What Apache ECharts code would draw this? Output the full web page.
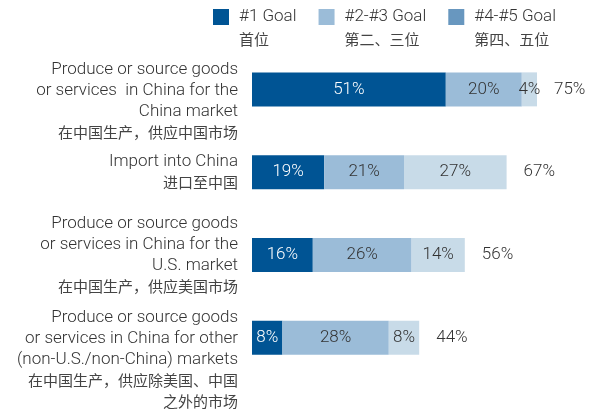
<!DOCTYPE html>
<html><head><meta charset="utf-8">
<script src="https://cdn.jsdelivr.net/npm/echarts@6/dist/echarts.min.js"></script>
<style>html,body{margin:0;padding:0;background:#fff}#c{width:589px;height:410px}</style>
</head><body><div id="c"></div>
<script>
const categoriesEn = [
  'Produce or source goods\nor services  in China for the\nChina market',
  'Import into China',
  'Produce or source goods\nor services in China for the\nU.S. market',
  'Produce or source goods\nor services in China for other\n(non-U.S./non-China) markets'
];
const categoriesZh = [
  '在中国生产，供应中国市场',
  '进口至中国',
  '在中国生产，供应美国市场',
  '在中国生产，供应除美国、中国\n之外的市场'
];
const seriesNames = ['#1 Goal', '#2-#3 Goal', '#4-#5 Goal'];
const seriesNamesZh = ['首位', '第二、三位', '第四、五位'];
const goal1 = [51, 19, 16, 8];
const goal23 = [20, 21, 26, 28];
const goal45 = [4, 27, 14, 8];
const totals = [75, 67, 56, 44];

const FONT_EN = 'Roboto, "Liberation Sans", sans-serif';
const FONT_ZH = '"Noto Sans CJK SC", sans-serif';
const colors = ['#005494', '#9bbcd8', '#c8dbe8'];
const legendSwatch = ['#005494', '#9bbcd8', '#6897bf'];
const spacerByIndex = ['sp1', null, null, 'sp4'];

function catLabel(i) {
  let parts = [];
  if (spacerByIndex[i]) parts.push('{' + spacerByIndex[i] + '| }');
  categoriesEn[i].split('\n').forEach(l => parts.push('{en|' + l + '}'));
  categoriesZh[i].split('\n').forEach(l => parts.push('{zh|' + l + '}'));
  return parts.join('\n');
}

const segData = [goal1, goal23, goal45];
const labelColors = ['#ffffff', '#333333', '#333333'];
const series = segData.map((d, k) => ({
  name: seriesNames[k], type: 'bar', stack: 'total', data: d, barWidth: 34,
  itemStyle: { color: colors[k] },
  label: { show: true, position: 'inside', color: labelColors[k], fontSize: 17,
    fontFamily: FONT_EN, fontWeight: 300, formatter: p => p.value + '%' }
}));
series.push({
  name: 'Total', type: 'bar', data: totals, barWidth: 34, barGap: '-100%',
  itemStyle: { color: 'rgba(0,0,0,0)' }, silent: true, z: 1,
  label: { show: true, position: 'right', distance: 17, color: '#333', fontSize: 17,
    fontFamily: FONT_EN, fontWeight: 300, formatter: p => p.value + '%' }
});

const chart = echarts.init(document.getElementById('c'), null, { renderer: 'canvas' });
chart.setOption({
  animation: false,
  backgroundColor: '#fff',
  legend: {
    left: 213, top: -10, padding: 0, itemWidth: 16, itemHeight: 16, itemGap: 22,
    selectedMode: false,
    data: seriesNames.map((n, i) => ({ name: n, icon: 'rect', itemStyle: { color: legendSwatch[i] } })),
    formatter: n => {
      const i = seriesNames.indexOf(n);
      return '{sp| }\n{en|' + n + '}\n{zh|' + seriesNamesZh[i] + '}';
    },
    textStyle: {
      rich: {
        sp: { lineHeight: 22, fontSize: 10 },
        en: { fontSize: 17, lineHeight: 22, color: '#333', fontFamily: FONT_EN, fontWeight: 300, padding: [0, 0, 0, 5] },
        zh: { fontSize: 15, lineHeight: 22, color: '#444', fontFamily: FONT_ZH, padding: [0, 0, 0, 5] }
      }
    }
  },
  grid: { left: 252, right: 33, top: 48, bottom: 31, containLabel: false },
  xAxis: { type: 'value', min: 0, max: 80, show: false },
  yAxis: {
    type: 'category', inverse: true, data: categoriesEn.map((c, i) => i),
    axisLine: { show: false }, axisTick: { show: false }, splitLine: { show: false },
    axisLabel: {
      interval: 0, hideOverlap: false, margin: 14, formatter: (v, i) => catLabel(i),
      rich: {
        en: { fontSize: 17, lineHeight: 21, color: '#333', fontFamily: FONT_EN, fontWeight: 300 },
        zh: { fontSize: 15, lineHeight: 21, color: '#444', fontFamily: FONT_ZH },
        sp1: { lineHeight: 23, fontSize: 10 },
        sp4: { lineHeight: 44, fontSize: 10 }
      }
    }
  },
  series: series
});
</script></body></html>
